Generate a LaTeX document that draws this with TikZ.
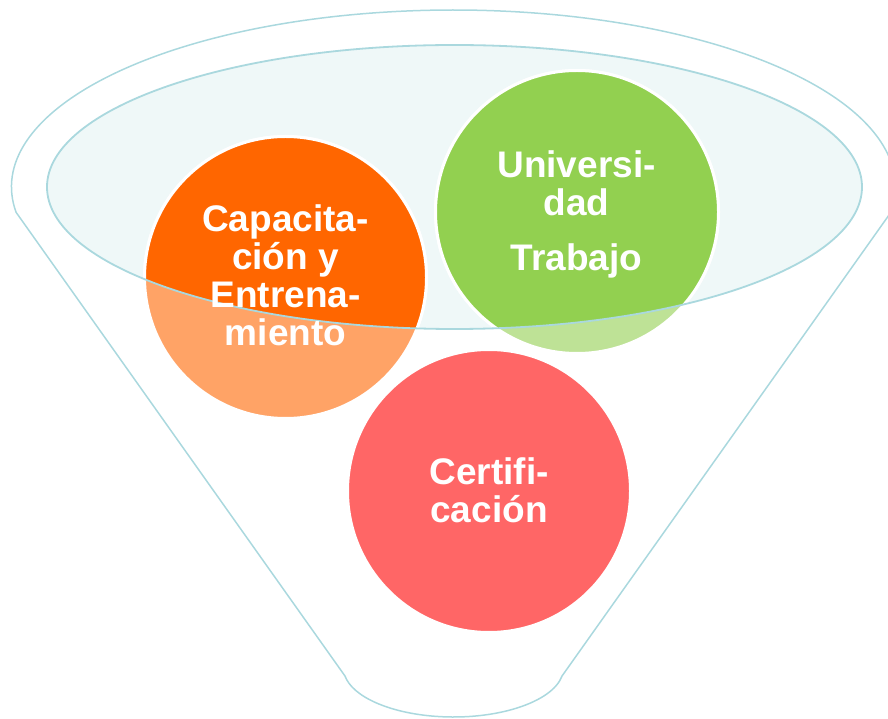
\documentclass[tikz,border=0pt]{standalone}
\usepackage{fontspec}
\setmainfont{Liberation Sans}
\usetikzlibrary{calc}
\definecolor{funnelline}{RGB}{170,216,222}
\definecolor{funnelfill}{RGB}{239,248,248}
\definecolor{orangefull}{HTML}{FF6600}
\definecolor{orangelight}{HTML}{FFA366}
\definecolor{greenfull}{HTML}{92D050}
\definecolor{greenlight}{HTML}{BEE296}
\definecolor{redlight}{HTML}{FF6666}
\begin{document}
\begin{tikzpicture}[x=1pt,y=1pt,
  ball/.style={circle, inner sep=0pt, minimum size=283pt, draw=white, line width=3pt},
  balltext/.style={text=white, font=\fontsize{37}{38}\selectfont\bfseries, align=center, inner sep=0pt},
  funnelstroke/.style={draw=funnelline, line width=1.5pt}]
\useasboundingbox (0,0) rectangle (888,718);
\coordinate (oc) at (453.5,531);
\coordinate (ec) at (454.5,531);
\coordinate (bc) at (453.5,50);
% outer funnel
\draw[funnelstroke] ($(oc)+(188.2:442pt and 177pt)$)
  arc[start angle=188.2, end angle=-8.2, x radius=442pt, y radius=177pt]
  -- ($(bc)+(-9.4:110pt and 49pt)$)
  arc[start angle=-9.4, end angle=-170.6, x radius=110pt, y radius=49pt]
  -- cycle;
% inner ellipse fill
\fill[funnelfill] (ec) ellipse[x radius=407.5pt, y radius=142pt];
% light circles
\node[ball, fill=orangelight, minimum size=282pt] (capL) at (285.5,440.5) {};
\node[ball, fill=greenlight] (uniL) at (577,506) {};
\node[ball, fill=redlight] (cerL) at (489,227) {};
% saturated parts inside the opening
\begin{scope}
  \clip (ec) ellipse[x radius=407.5pt, y radius=142pt];
  \node[ball, fill=orangefull, minimum size=282pt] (capF) at (capL) {};
  \node[ball, fill=greenfull] (uniF) at (uniL) {};
\end{scope}
\draw[funnelstroke, line width=1.8pt] (ec) ellipse[x radius=407.5pt, y radius=142pt];
% texts
\node[balltext] (captext) at (285.5,442.5) {Capacita-\\ción y\\Entrena-\\miento};
\node[balltext] (unitext) at (576.5,503.6) {Universi-\\dad\\[17pt]Trabajo};
\node[balltext] (certext) at (489,228.1) {Certifi-\\cación};
\end{tikzpicture}
\end{document}
